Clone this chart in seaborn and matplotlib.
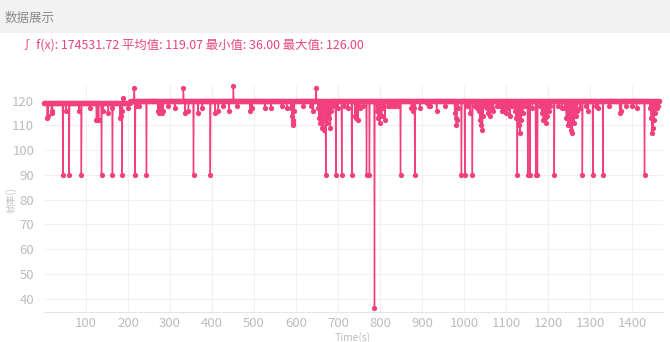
import numpy as np
import pandas as pd
import matplotlib
matplotlib.use("Agg")
import matplotlib.pyplot as plt
import seaborn as sns

# ---- data ----
n_points = 1466                      # samples at 1 s step
baseline_starts = [0, 205]           # time where each baseline level begins
baseline_levels = [119, 120]

event_times = [8, 10, 18, 20, 45, 52, 60, 83, 89, 109, 125, 128, 130, 137, 141, 153, 161, 163,
               181, 183, 185, 186, 187, 201, 215, 217, 220, 226, 244,
               271, 274, 277, 280, 284, 295, 312, 332, 336, 344, 356, 367, 377, 396, 407, 415,
               427, 440, 451, 459, 491, 495, 526, 540, 566, 578, 588, 590, 592, 593, 594, 596,
               617, 636, 641, 648,
               652, 655, 657, 660, 663, 665, 666, 668, 671, 674, 676, 679, 682, 684, 688, 695,
               700, 709, 715, 724, 733, 740, 744, 748, 752, 760, 768, 775, 787, 792, 796, 800,
               804, 808, 812, 819, 825, 831, 837, 843, 849, 875, 878, 881, 883, 895, 912, 916,
               919, 935, 955, 978, 980, 982, 983, 986, 994, 1002, 1008, 1014, 1020, 1026, 1030,
               1035, 1038, 1041, 1044, 1046, 1050, 1054, 1058, 1062, 1066, 1070, 1078, 1086,
               1090, 1095, 1100, 1105, 1110, 1114, 1121, 1124, 1127, 1130, 1133, 1136, 1140,
               1145, 1152, 1157, 1163, 1171, 1175, 1181, 1185, 1189, 1192, 1195, 1198, 1202,
               1205, 1215, 1225, 1233, 1240, 1244, 1248, 1251, 1255, 1258, 1262, 1266, 1270,
               1276, 1282, 1290, 1296, 1307, 1315, 1320, 1331, 1345, 1371, 1375, 1385, 1400,
               1411, 1430, 1443, 1446, 1448, 1450, 1453, 1456, 1459, 1462]
event_values = [113, 114, 115, 116, 90, 116, 90, 116, 90, 117, 112, 112, 112, 90, 116, 115, 117, 90,
                113, 114, 116, 90, 121, 117, 125, 90, 118, 118, 90,
                116, 115, 116, 115, 116, 118, 117, 125, 115, 116, 90, 115, 117, 90, 115, 116,
                118, 116, 126, 118, 116, 117, 117, 117, 118, 117, 117, 114, 111, 110, 112, 116,
                118, 118, 116, 125,
                117, 113, 111, 114, 109, 112, 108, 115, 90, 111, 118, 113, 109, 116, 118, 90,
                117, 90, 118, 117, 90, 114, 113, 112, 117, 118, 90, 90, 36, 116, 113, 111,
                114, 117, 112, 118, 118, 118, 118, 118, 90, 117, 116, 117, 90, 117, 119, 118,
                118, 116, 118, 115, 113, 110, 112, 117, 90, 90, 118, 115, 90, 118, 117,
                116, 112, 110, 108, 114, 118, 117, 115, 114, 117, 116, 118, 118,
                116, 117, 115, 117, 114, 118, 116, 113, 90, 110, 107, 112, 115,
                118, 90, 90, 117, 90, 90, 118, 115, 112, 113, 111, 114, 116,
                118, 90, 118, 117, 117, 113, 110, 112, 108, 107, 111, 114, 116,
                117, 90, 118, 116, 90, 118, 117, 90, 118, 115, 116, 118, 118,
                117, 90, 117, 113, 107, 109, 112, 115, 117, 118]

y_ticks = [40, 50, 60, 70, 80, 90, 100, 110, 120]
x_ticks = [100, 200, 300, 400, 500, 600, 700, 800, 900, 1000, 1100, 1200, 1300, 1400]
header_text = "数据展示"
title_text = "∫ f(x): 174531.72 平均值: 119.07 最小值: 36.00 最大值: 126.00"
y_label = "帧率()"
x_label = "Time(s)"

# ---- build series ----
t = np.arange(n_points)
vals = np.empty(n_points, dtype=float)
for i, start in enumerate(baseline_starts):
    end = baseline_starts[i + 1] if i + 1 < len(baseline_starts) else n_points
    vals[start:end] = baseline_levels[i]
for et, ev in zip(event_times, event_values):
    vals[et] = ev
df = pd.DataFrame({"Time(s)": t, "fps": vals})

# ---- plot ----
sns.set_style("white")
plt.rcParams["font.family"] = ["Noto Sans CJK SC", "DejaVu Sans"]

pink = "#F2407E"
W, H = 670, 342
fig = plt.figure(figsize=(6.7, 3.42), dpi=100)
fig.patch.set_facecolor("white")

# header band
fig.patches.append(plt.Rectangle((0, 1 - 33 / H), 1, 33 / H, transform=fig.transFigure,
                                 facecolor="#F2F2F2", edgecolor="none", zorder=0))
fig.text(5 / W, 1 - 18 / H, header_text, color="#8A8A8A", fontsize=9, va="center", ha="left")
fig.text(21 / W, 1 - 45 / H, title_text, color="#E8457E", fontsize=8.9, va="center", ha="left")

ax_bottom_px, ax_top_px = 311.7, 84.6
ax = fig.add_axes([44 / W, (H - ax_bottom_px) / H, 619 / W, (ax_bottom_px - ax_top_px) / H])
sns.lineplot(data=df, x="Time(s)", y="fps", ax=ax, color=pink, linewidth=1.0,
             marker="o", markersize=3.8, markeredgewidth=0, clip_on=False)

ax.set_xlim(0, 1474)
ax.set_ylim(34.7, 126.5)
ax.set_xticks(x_ticks)
ax.set_yticks(y_ticks)
ax.tick_params(axis="both", colors="#BDBDBD", labelsize=9.5, length=0)
ax.tick_params(axis="y", pad=7)
ax.tick_params(axis="x", pad=4)
ax.grid(True, color="#F0F0F0", linewidth=0.8)
ax.set_axisbelow(True)
for s in ["top", "right", "left"]:
    ax.spines[s].set_visible(False)
ax.spines["bottom"].set_color("#E6E6E6")
ax.spines["bottom"].set_linewidth(0.8)

ax.set_xlabel("")
ax.set_ylabel("")
fig.text(11 / W, 1 - 200 / H, y_label, color="#C4C4C4", fontsize=7, rotation=90,
         va="center", ha="center")
fig.text(353 / W, 1 - 337.5 / H, x_label, color="#BDBDBD", fontsize=7.5, va="center", ha="center")

fig.savefig("out.png", dpi=100)
